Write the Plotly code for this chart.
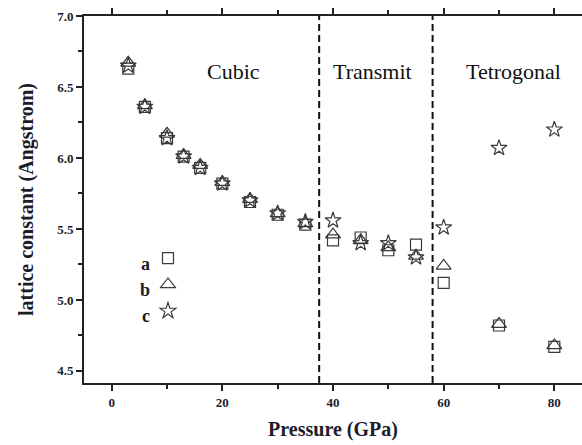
import plotly.graph_objects as go

pressure = [3, 6, 10, 13, 16, 20, 25, 30, 35, 40, 45, 50, 55, 60, 70, 80]
series_a = [6.63, 6.36, 6.14, 6.01, 5.93, 5.82, 5.69, 5.60, 5.53, 5.42, 5.44, 5.35, 5.39, 5.12, 4.82, 4.67]
series_b = [6.67, 6.37, 6.17, 6.02, 5.95, 5.83, 5.71, 5.61, 5.54, 5.46, 5.42, 5.37, 5.31, 5.24, 4.83, 4.68]
series_c = [6.65, 6.36, 6.14, 6.01, 5.93, 5.82, 5.70, 5.61, 5.55, 5.56, 5.40, 5.40, 5.30, 5.51, 6.07, 6.20]
legend_labels = ["a", "b", "c"]
phase_bounds = [37.5, 58]
phase_labels = ["Cubic", "Transmit", "Tetrogonal"]
phase_label_x = [22.0, 47.1, 72.6]
phase_label_y = 6.61

SERIF = "Liberation Serif"
INK = "#1c1c2a"
MK = "#3a3a3a"

fig = go.Figure()
symbols = ["square-open", "triangle-up-open", "star-open"]
sizes = [11, 13, 12]
for ys, sym, sz, lab in zip([series_a, series_b, series_c], symbols, sizes, legend_labels):
    fig.add_trace(go.Scatter(
        x=pressure, y=ys, mode="markers", name="\u00a0",
        marker=dict(symbol=sym, size=sz, color=MK, line=dict(width=1.2, color=MK)),
        showlegend=True,
    ))

for xb in phase_bounds:
    fig.add_shape(type="line", x0=xb, x1=xb, y0=0, y1=1, xref="x", yref="paper",
                  line=dict(color="#111", width=2, dash="7px,4px"))

for txt, xx in zip(phase_labels, phase_label_x):
    fig.add_annotation(x=xx, y=phase_label_y, text=txt, showarrow=False,
                       font=dict(family=SERIF, size=22, color="#111"))

# legend letters
for i, lab in enumerate(legend_labels):
    fig.add_annotation(xref="paper", yref="paper", x=0.137, y=0.292 - i * 0.071,
                       text="<b>%s</b>" % lab, showarrow=False, xanchor="right",
                       font=dict(family=SERIF, size=18, color=INK))

fig.update_layout(
    width=582, height=445,
    margin=dict(l=84, r=0, t=16, b=62),
    plot_bgcolor="white", paper_bgcolor="white",
    showlegend=True,
    legend=dict(x=0.1285, y=0.39, xanchor="left", yanchor="top",
                bgcolor="rgba(0,0,0,0)", font=dict(family=SERIF, size=18),
                itemwidth=30, tracegroupgap=0),
    font=dict(family=SERIF, color=INK),
)
fig.update_xaxes(
    range=[-5, 85], tickvals=[0, 20, 40, 60, 80],
    showgrid=False, zeroline=False,
    showline=True, linecolor="#222", linewidth=2, mirror="ticks",
    ticks="outside", ticklen=6, tickwidth=1.5, tickcolor="#222",
    minor=dict(tickvals=[10, 30, 50, 70], ticks="outside", ticklen=4, tickcolor="#222"),
    tickfont=dict(family=SERIF, size=13, color=INK, weight="bold"),
    title=dict(text="<b>Pressure (GPa)</b>", font=dict(family=SERIF, size=20, color=INK), standoff=13),
)
fig.update_yaxes(
    range=[4.415, 7.0], tickvals=[4.5, 5.0, 5.5, 6.0, 6.5, 7.0], tickformat=".1f",
    showgrid=False, zeroline=False,
    showline=True, linecolor="#222", linewidth=2,
    ticks="outside", ticklen=6, tickwidth=1.5, tickcolor="#222",
    minor=dict(tickvals=[4.75, 5.25, 5.75, 6.25, 6.75], ticks="outside", ticklen=4, tickcolor="#222"),
    tickfont=dict(family=SERIF, size=13, color=INK, weight="bold"),
    title=dict(text="<b>lattice constant (Angstrom)</b>", font=dict(family=SERIF, size=20, color=INK), standoff=18),
)

fig.write_html("out.html")
